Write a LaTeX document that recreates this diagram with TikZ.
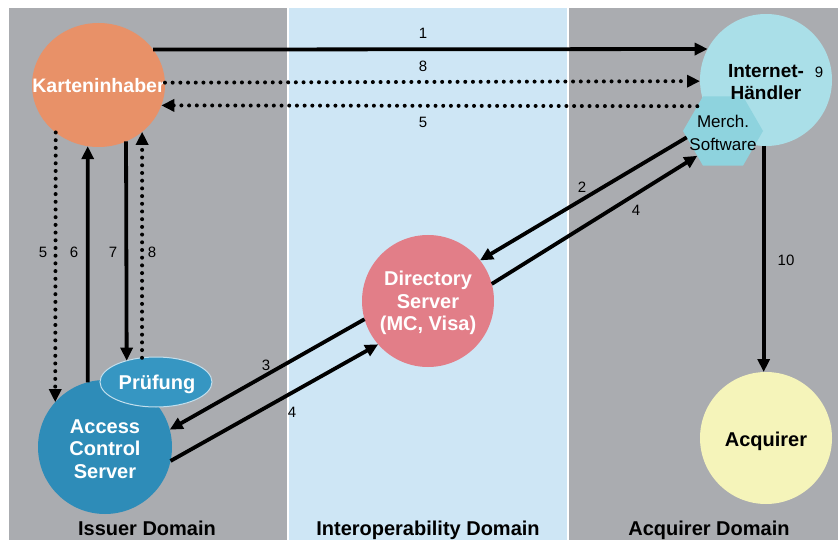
\documentclass[tikz,border=0pt]{standalone}
\usepackage{fontspec}
\setmainfont{Liberation Sans}
\usetikzlibrary{shapes.geometric,arrows.meta}
\definecolor{granite}{RGB}{170,172,176}
\definecolor{skyband}{RGB}{206,230,245}
\definecolor{korange}{RGB}{232,145,104}
\definecolor{ihcyan}{RGB}{170,223,232}
\definecolor{mcyan}{RGB}{142,211,222}
\definecolor{dspink}{RGB}{226,126,136}
\definecolor{acsblue}{RGB}{46,140,184}
\definecolor{pblue}{RGB}{54,150,194}
\definecolor{aqyellow}{RGB}{245,244,186}
\begin{document}
\begin{tikzpicture}[x=1pt,y=-1pt,
  blob/.style={inner sep=0pt,outer sep=0pt,draw=none},
  bigtxt/.style={font=\bfseries\fontsize{20}{22.5}\selectfont,align=center,inner sep=0pt},
  midtxt/.style={font=\fontsize{17}{22.5}\selectfont,align=center,inner sep=0pt},
  numtxt/.style={font=\fontsize{15}{17}\selectfont,inner sep=0pt},
  solidarrow/.style={line width=3.8pt,-{Triangle[length=13pt,width=12pt]}},
  dotarrow/.style={line width=4pt,line cap=round,dash pattern=on 0pt off 7.7pt,-{Triangle[length=13pt,width=12pt]}}]
\useasboundingbox (0,0) rectangle (838,540);
\fill[white] (0,0) rectangle (838,540);
\fill[granite] (9,8) rectangle (287,540);
\fill[skyband] (289,8) rectangle (567,540);
\fill[granite] (569,8) rectangle (838,540);

% nodes
\node[blob,ellipse,fill=korange,minimum width=133pt,minimum height=124pt] (K) at (98.5,85) {};
\node[blob,circle,fill=ihcyan,minimum size=132pt] (IH) at (766,80) {};
\node[blob,regular polygon,regular polygon sides=6,fill=mcyan,minimum size=80pt] (M) at (723,131) {};
\node[blob,circle,fill=dspink,minimum size=132pt] (DS) at (428,301) {};
\node[blob,circle,fill=acsblue,minimum size=134pt] (ACS) at (105,447) {};
\node[blob,ellipse,fill=pblue,draw=white!70!pblue,line width=1pt,minimum width=112pt,minimum height=50pt] (P) at (156,382) {};
\node[blob,circle,fill=aqyellow,minimum size=132pt] (AQ) at (766,438) {};

% texts
\node[bigtxt,text=white,font=\bfseries\fontsize{19.5}{22}\selectfont] (Kt) at (98.5,86) {Karteninhaber};
\node[bigtxt,font=\bfseries\fontsize{19}{22.5}\selectfont] (IHt) at (766,82) {Internet-\\Händler};
\node[midtxt] (Mt) at (723,133) {Merch.\\Software};
\node[bigtxt,text=white] (DSt) at (428,303) {Directory\\Server\\(MC, Visa)};
\node[bigtxt,text=white] (ACSt) at (105,449) {Access\\Control\\Server};
\node[bigtxt,text=white] (Pt) at (157,384) {Prüfung};
\node[bigtxt] (AQt) at (766,441) {Acquirer};

% domains
\node[bigtxt,anchor=base] (d1) at (147,535) {Issuer Domain};
\node[bigtxt,anchor=base] (d2) at (428,535) {Interoperability Domain};
\node[bigtxt,anchor=base] (d3) at (709,535) {Acquirer Domain};

% connectors
\draw[solidarrow] (K.33.6) -- (IH.152);
\draw[dotarrow] (K.2.6) -- (IH.181.7);
\draw[dotarrow] (M.136) -- (K.-18.5);
\draw[dotarrow] (K.-132.8) -- (ACS.138.3);
\draw[solidarrow] (ACS.105.6) -- (K.-100.7);
\draw[solidarrow] (K.-64) -- (P.144.9);
\draw[dotarrow] (P.120) -- (K.-47.2);
\draw[solidarrow] (M.-170) -- (DS.38);
\draw[solidarrow] (DS.15.3) -- (M.-136);
\draw[solidarrow] (DS.196.3) -- (ACS.15.6);
\draw[solidarrow] (ACS.-12.6) -- (DS.-139.5);
\draw[solidarrow] (IH.-92.6) -- (AQ.92.6);

% numbers
\node[numtxt] (n1) at (423,33) {1};
\node[numtxt] (n8a) at (423,66) {8};
\node[numtxt] (n5a) at (423,122) {5};
\node[numtxt] (n5b) at (43,252) {5};
\node[numtxt] (n6) at (74,252) {6};
\node[numtxt] (n7) at (113,252) {7};
\node[numtxt] (n8b) at (152,252) {8};
\node[numtxt] (n2) at (582,187) {2};
\node[numtxt] (n4a) at (636,210) {4};
\node[numtxt] (n3) at (266,365) {3};
\node[numtxt] (n4b) at (292,412) {4};
\node[numtxt] (n10) at (786,260) {10};
\node[numtxt] (n9) at (819,72) {9};
\end{tikzpicture}
\end{document}
